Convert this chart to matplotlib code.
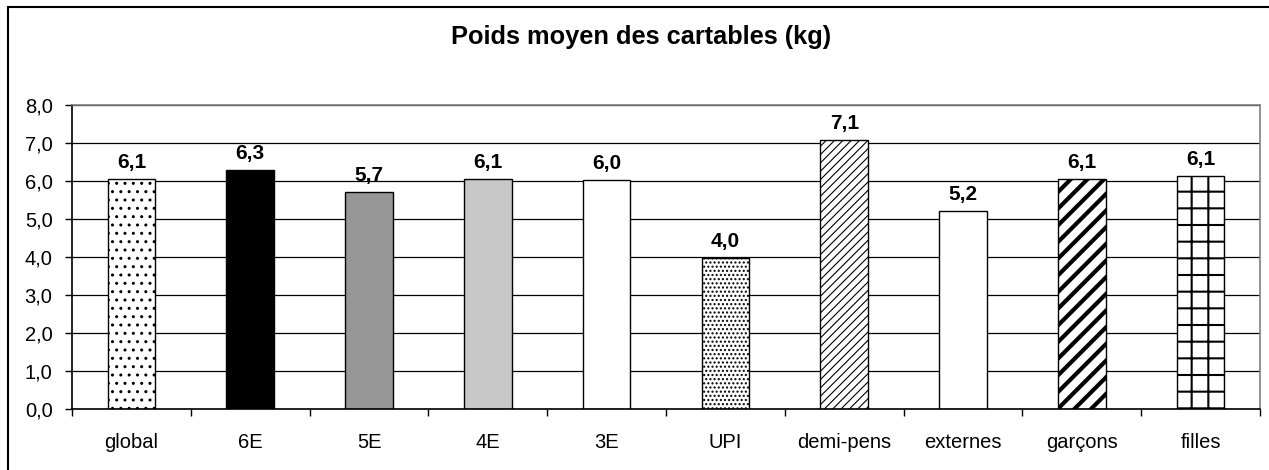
import matplotlib.pyplot as plt
import matplotlib.patches as mpatches
import numpy as np

categories = ['global', '6E', '5E', '4E', '3E', 'UPI', 'demi-pens', 'externes', 'garçons', 'filles']
values = [6.05, 6.30, 5.71, 6.06, 6.02, 3.98, 7.07, 5.21, 6.06, 6.13]
labels = ['6,1', '6,3', '5,7', '6,1', '6,0', '4,0', '7,1', '5,2', '6,1', '6,1']

colors = ['white', 'black', '#969696', '#c8c8c8', 'white', 'white', 'white', 'white', 'white', 'white']
hatches = ['..', None, None, None, None, '....', '////', None, '//', '+']
hatch_lw = [1.0, 1.0, 1.0, 1.0, 1.0, 1.0, 0.8, 1.0, 3.0, 1.5]
hatch_col = ['#404040', 'black', 'black', 'black', 'black', '#303030', '#303030', 'black', 'black', 'black']

plt.rcParams['font.family'] = ['Liberation Sans', 'DejaVu Sans']

W, H = 1269, 470
fig = plt.figure(figsize=(W / 100, H / 100), dpi=100)
ax = fig.add_axes([72 / W, 1 - 409 / H, (1260 - 72) / W, (409 - 105) / H])

x = np.arange(len(categories))
for i in range(len(categories)):
    plt.rcParams['hatch.linewidth'] = hatch_lw[i]
    plt.rcParams['hatch.color'] = hatch_col[i]
    b = ax.bar(x[i], values[i], width=0.40, color=colors[i], edgecolor='black',
               linewidth=1.0, hatch=hatches[i], zorder=3)
    for p in b:
        if hasattr(p, 'set_hatch_linewidth'):
            p.set_hatch_linewidth(hatch_lw[i])
    ax.annotate(labels[i], (x[i], values[i]), xytext=(0, 5), textcoords='offset points',
                ha='center', va='bottom', fontsize=15, fontweight='bold', zorder=4)

ax.set_xlim(-0.5, len(categories) - 0.5)
ax.set_ylim(0, 8)
ax.set_yticks(np.arange(0, 8.5, 1.0))
ax.set_yticklabels([f'{v:.1f}'.replace('.', ',') for v in np.arange(0, 8.5, 1.0)], fontsize=14.5)
ax.yaxis.grid(True, color='black', linewidth=0.9, zorder=0)
ax.tick_params(axis='y', direction='out', length=5, width=1, pad=9)

ax.set_xticks(np.arange(-0.5, len(categories), 1.0))
ax.set_xticklabels([])
ax.set_xticks(x, minor=True)
ax.set_xticklabels(categories, minor=True, fontsize=14.5)
ax.tick_params(axis='x', which='major', direction='out', length=5, width=1)
ax.tick_params(axis='x', which='minor', length=0, pad=17)

ax.spines['left'].set_color('black')
ax.spines['bottom'].set_color('black')
ax.spines['top'].set_color('#808080')
ax.spines['right'].set_color('#808080')
for s in ax.spines.values():
    s.set_linewidth(1.2)
    s.set_zorder(5)

fig.text(0.505, 1 - 37 / H, 'Poids moyen des cartables (kg)', ha='center', va='center',
         fontsize=18.3, fontweight='bold')

# outer chart border
fig.patches.append(mpatches.Rectangle((8 / W, -0.1), 1.1, 1.1 - 7 / H,
                                      transform=fig.transFigure, fill=False,
                                      edgecolor='black', linewidth=1.5))

fig.savefig('out.png', dpi=100)
